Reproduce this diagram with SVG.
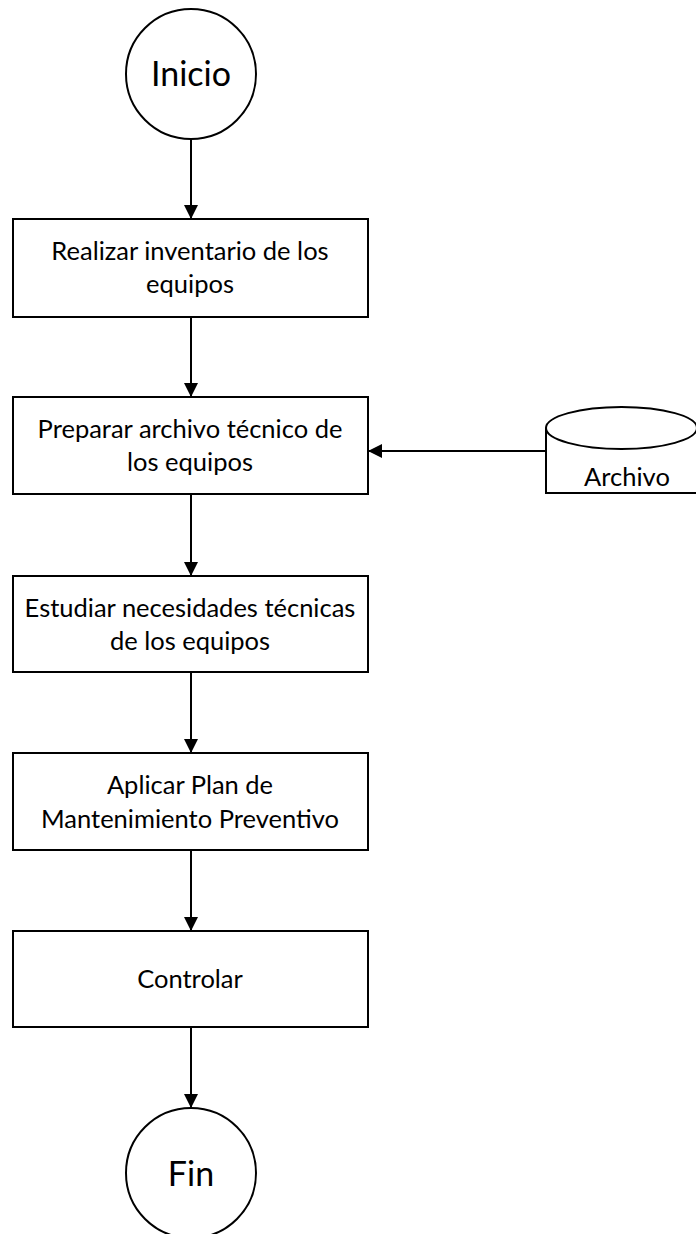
<svg xmlns="http://www.w3.org/2000/svg" width="696" height="1234" viewBox="0 0 696 1234">
<style>
.box{fill:#fff;stroke:#000;stroke-width:2}
.conn{fill:none;stroke:#000;stroke-width:2}
.t{font-family:Lato,"Liberation Sans",sans-serif;font-size:25.5px;fill:#000;text-anchor:middle}
.big{font-size:34px}
</style>
<defs>
<marker id="arr" viewBox="0 0 14 14" refX="14" refY="7" markerWidth="14" markerHeight="14" markerUnits="userSpaceOnUse" orient="auto">
<path d="M0,0 L14,7 L0,14 Z" fill="#000"/>
</marker>
</defs>
<rect width="696" height="1234" fill="#fff"/>
<g id="connectors">
<line class="conn" x1="191" y1="139" x2="191" y2="219" marker-end="url(#arr)"/>
<line class="conn" x1="191" y1="317" x2="191" y2="397" marker-end="url(#arr)"/>
<line class="conn" x1="191" y1="494" x2="191" y2="576" marker-end="url(#arr)"/>
<line class="conn" x1="191" y1="672" x2="191" y2="753" marker-end="url(#arr)"/>
<line class="conn" x1="191" y1="850" x2="191" y2="931" marker-end="url(#arr)"/>
<line class="conn" x1="191" y1="1027" x2="191" y2="1108" marker-end="url(#arr)"/>
<line class="conn" x1="546" y1="451" x2="368" y2="451" marker-end="url(#arr)"/>
</g>
<g id="inicio">
<circle class="box" cx="191" cy="74" r="65"/>
<text class="t big" x="191" y="86">Inicio</text>
</g>
<g id="realizar">
<rect class="box" x="13" y="219" width="355" height="98"/>
<text class="t" x="190" y="260">Realizar inventario de los</text>
<text class="t" x="190" y="293">equipos</text>
</g>
<g id="preparar">
<rect class="box" x="13" y="397" width="355" height="97"/>
<text class="t" x="190" y="438">Preparar archivo técnico de</text>
<text class="t" x="190" y="471">los equipos</text>
</g>
<g id="estudiar">
<rect class="box" x="13" y="576" width="355" height="96"/>
<text class="t" x="190" y="617">Estudiar necesidades técnicas</text>
<text class="t" x="190" y="650">de los equipos</text>
</g>
<g id="aplicar">
<rect class="box" x="13" y="753" width="355" height="97"/>
<text class="t" x="190" y="794">Aplicar Plan de</text>
<text class="t" x="190" y="828">Mantenimiento Preventivo</text>
</g>
<g id="controlar">
<rect class="box" x="13" y="931" width="355" height="96"/>
<text class="t" x="190" y="988">Controlar</text>
</g>
<g id="fin">
<circle class="box" cx="191" cy="1173" r="65"/>
<text class="t big" x="191" y="1186">Fin</text>
</g>
<g id="archivo">
<path class="box" d="M546,428 L546,493 L697,493 L697,428"/>
<ellipse class="box" cx="621.5" cy="428" rx="75.5" ry="21"/>
<text class="t" x="627" y="486">Archivo</text>
</g>
</svg>
